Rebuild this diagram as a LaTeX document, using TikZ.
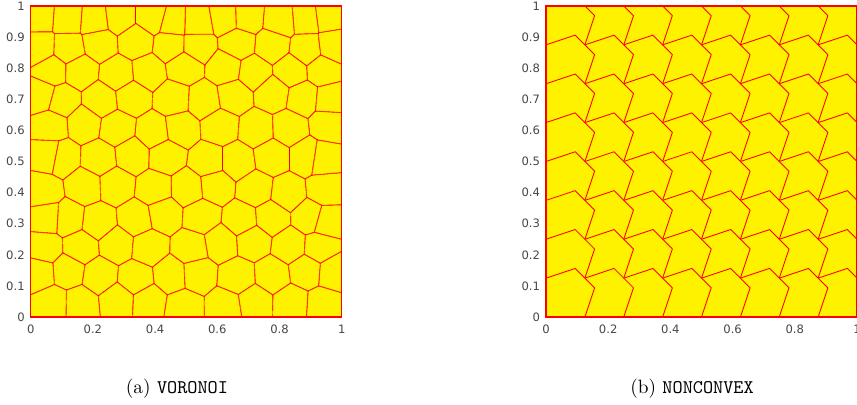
\documentclass[tikz,border=0pt]{standalone}
\usepackage{fontspec}
\newfontfamily\tickfont{DejaVu Sans}
\newcount\vorn
\begin{document}
\begin{tikzpicture}[x=0.5181pt,y=0.5181pt,
  edge/.style={red, line width=0.45pt, line join=round},
  frame/.style={red, line width=0.6pt},
  ticklab/.style={font=\tickfont\fontsize{6}{7}\selectfont, text=black!72, inner sep=0pt},
  capt/.style={inner sep=0pt, anchor=base}]
\useasboundingbox (0,0) rectangle (857,404);
\fill[white] (0,0) rectangle (857,404);

% ---- seeds of the Voronoi mesh ----
\global\vorn=0
\foreach \r/\n/\yy in {0/9/0.043,1/10/0.136,2/9/0.23,3/10/0.318,4/9/0.414,5/10/0.512,6/9/0.609,7/10/0.705,8/9/0.792,9/10/0.874,10/12/0.958}{
  \foreach \k in {1,...,\n}{
    \global\advance\vorn by 1
    \pgfmathsetmacro\bx{\n==9 ? 0.055+(\k-1)*0.111 : (\n==10 ? (\k==1 ? 0.045 : (\k==10 ? 0.955 : 0.11+(\k-2)*0.111)) : (\n==11 ? 0.045+(\k-1)*0.091 : 0.04+(\k-1)*0.0836))}
    \pgfmathsetmacro\px{\bx+0.011*sin(\the\vorn*137.508)+0.008*sin(\the\vorn*61.7+33)}
    \pgfmathsetmacro\py{\yy+0.009*cos(\the\vorn*97.3+20)+0.006*sin(\the\vorn*45.1)}
    \expandafter\xdef\csname vx\the\vorn\endcsname{\px}
    \expandafter\xdef\csname vy\the\vorn\endcsname{\py}
    \expandafter\xdef\csname vr\the\vorn\endcsname{\r}
  }
}
\edef\NS{\the\vorn}

% ---- (a) VORONOI ----
\begin{scope}[shift={(30.7,87)}, x=161.13pt, y=161.13pt]
  \fill[yellow] (0,0) rectangle (1,1);
  \begin{scope}
    \clip (0,0) rectangle (1,1);
    \foreach \i in {1,...,\NS}{
      \edef\xa{\csname vx\i\endcsname}\edef\ya{\csname vy\i\endcsname}\edef\ra{\csname vr\i\endcsname}
      \begin{scope}
        \foreach \j in {1,...,\NS}{
          \edef\xb{\csname vx\j\endcsname}\edef\yb{\csname vy\j\endcsname}\edef\rb{\csname vr\j\endcsname}
          \ifnum\numexpr(\ra-\rb)*(\ra-\rb)\relax<5 \ifnum\i=\j\else
            \pgfmathsetmacro\ang{atan2(\yb-\ya,\xb-\xa)}
            \clip[shift={({(\xa+\xb)/2},{(\ya+\yb)/2})}, rotate=\ang] (-1.5,-1.5) rectangle (0,1.5);
          \fi\fi
        }
        \foreach \j in {1,...,\NS}{
          \edef\xb{\csname vx\j\endcsname}\edef\yb{\csname vy\j\endcsname}\edef\rb{\csname vr\j\endcsname}
          \ifnum\numexpr(\ra-\rb)*(\ra-\rb)\relax<5 \ifnum\i=\j\else
            \pgfmathsetmacro\ang{atan2(\yb-\ya,\xb-\xa)}
            \draw[edge, shift={({(\xa+\xb)/2},{(\ya+\yb)/2})}, rotate=\ang] (0,-1.5) -- (0,1.5);
          \fi\fi
        }
      \end{scope}
    }
  \end{scope}
  \draw[frame] (0,0) rectangle (1,1);
  \foreach \k/\t in {0/0,1/0.1,2/0.2,3/0.3,4/0.4,5/0.5,6/0.6,7/0.7,8/0.8,9/0.9,10/1}
    \node[ticklab, anchor=east, xshift=-2.95pt] (aya\k) at (0,\k/10) {\t};
  \foreach \k/\t in {0/0,2/0.2,4/0.4,6/0.6,8/0.8,10/1}
    \node[ticklab, anchor=north, yshift=-4.1pt] (axa\k) at (\k/10,0) {\t};
\end{scope}

% ---- (b) NONCONVEX ----
\begin{scope}[shift={(546,87)}, x=161.13pt, y=161.13pt]
  \fill[yellow] (0,0) rectangle (1,1);
  \foreach \i in {1,...,7}{\foreach \j in {0,...,7}{
    \draw[edge] ({\i/8},{\j/8}) -- ++({0.25/8},{0.75/8}) -- ({\i/8},{(\j+1)/8});}}
  \foreach \i in {0,...,7}{\foreach \j in {1,...,7}{
    \draw[edge] ({\i/8},{\j/8}) -- ++({0.75/8},{0.25/8}) -- ({(\i+1)/8},{\j/8});}}
  \draw[frame] (0,0) rectangle (1,1);
  \foreach \k/\t in {0/0,1/0.1,2/0.2,3/0.3,4/0.4,5/0.5,6/0.6,7/0.7,8/0.8,9/0.9,10/1}
    \node[ticklab, anchor=east, xshift=-2.95pt] (byb\k) at (0,\k/10) {\t};
  \foreach \k/\t in {0/0,2/0.2,4/0.4,6/0.6,8/0.8,10/1}
    \node[ticklab, anchor=north, yshift=-4.1pt] (bxb\k) at (\k/10,0) {\t};
\end{scope}

\node[capt] (capa) at (177,11) {(a) \texttt{VORONOI}};
\node[capt] (capb) at (692,11) {(b) \texttt{NONCONVEX}};
\end{tikzpicture}
\end{document}
